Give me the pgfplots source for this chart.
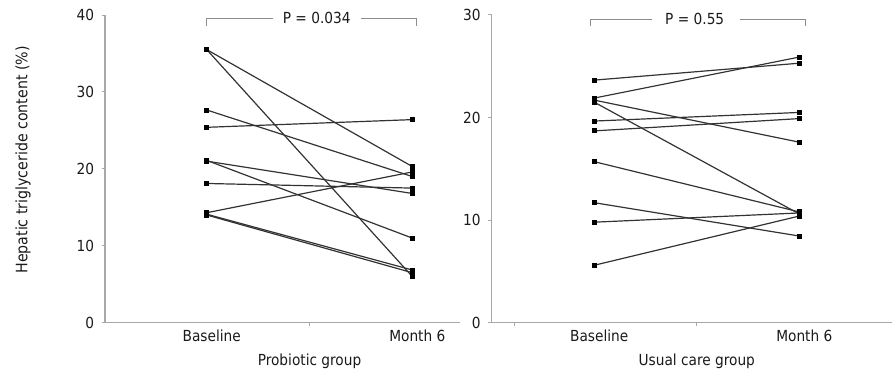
\documentclass[border=0pt]{standalone}
\usepackage{fontspec}
\setmainfont{DejaVu Sans Condensed}
\usepackage{pgfplots}
\pgfplotsset{compat=1.18}
\definecolor{axgray}{HTML}{A8A8A8}
\definecolor{lngray}{HTML}{333333}
\definecolor{txt}{HTML}{1A1A1A}
\definecolor{brk}{HTML}{8C8C8C}
\pgfplotsset{
  pair/.style={lngray, line width=1.2bp, mark=square*, mark size=1.9bp, mark options={black, solid}},
  panel/.style={
    scale only axis, height=307.7bp, ymin=0, clip=false,
    axis x line*=bottom, axis y line*=left,
    axis line style={axgray, line width=1.2bp},
    tick style={axgray, line width=1bp},
    tick align=outside, major tick length=3.5bp,
    xticklabels={},
    extra x ticks={0,1}, extra x tick labels={Baseline, Month 6},
    extra x tick style={major tick length=0pt, xticklabel style={xshift=5bp}},
    /pgf/number format/assume math mode=true,
    ticklabel style={font=\fontsize{15.3}{18}\selectfont, text=txt},
    yticklabel style={xshift=-4bp},
    xticklabel style={yshift=-4bp},
    xlabel style={font=\fontsize{15.3}{18}\selectfont, text=txt, at={(axis cs:0.5,0)}, anchor=center, yshift=-39bp},
  }
}
\begin{document}
\begin{tikzpicture}[x=1bp,y=1bp]
\useasboundingbox (0,-48.3) rectangle (892,322.7);
\node[rotate=90, font=\fontsize{15.8}{18}\selectfont, text=txt] at (23,162.7) {Hepatic triglyceride content (\%)};
\begin{axis}[panel, at={(105bp,0bp)}, anchor=south west, width=355bp,
  xmin=-0.495, xmax=1.232, ymax=40, ytick={0,10,20,30,40},
  xtick={0.5}, xlabel={Probiotic group}]
\addplot[pair] coordinates {(0,35.5)(1,20.3)};
\addplot[pair] coordinates {(0,35.5)(1,6.0)};
\addplot[pair] coordinates {(0,27.65)(1,19.0)};
\addplot[pair] coordinates {(0,25.4)(1,26.4)};
\addplot[pair] coordinates {(0,21.0)(1,16.8)};
\addplot[pair] coordinates {(0,21.1)(1,11.0)};
\addplot[pair] coordinates {(0,18.1)(1,17.5)};
\addplot[pair] coordinates {(0,14.3)(1,19.6)};
\addplot[pair] coordinates {(0,14.1)(1,6.85)};
\addplot[pair] coordinates {(0,14.0)(1,6.5)};
\draw[brk, line width=0.9bp] (axis cs:0,38.6) -- (axis cs:0,39.6) -- (axis cs:0.32,39.6);
\draw[brk, line width=0.9bp] (axis cs:0.75,39.6) -- (axis cs:1.02,39.6) -- (axis cs:1.02,38.6);
\node[font=\fontsize{15.3}{18}\selectfont, text=txt] at (axis cs:0.535,39.6) {P = 0.034};
\end{axis}
\begin{axis}[panel, at={(491.7bp,0bp)}, anchor=south west, width=400.3bp,
  xmin=-0.5, xmax=1.452, ymax=30, ytick={0,10,20,30},
  xtick={-0.39,0.5}, xlabel={Usual care group}]
\addplot[pair] coordinates {(0,23.65)(1,25.3)};
\addplot[pair] coordinates {(0,21.9)(1,25.9)};
\addplot[pair] coordinates {(0,21.7)(1,17.6)};
\addplot[pair] coordinates {(0,21.5)(1,10.6)};
\addplot[pair] coordinates {(0,19.66)(1,20.5)};
\addplot[pair] coordinates {(0,18.7)(1,19.9)};
\addplot[pair] coordinates {(0,15.7)(1,10.8)};
\addplot[pair] coordinates {(0,11.7)(1,8.45)};
\addplot[pair] coordinates {(0,9.8)(1,10.7)};
\addplot[pair] coordinates {(0,5.6)(1,10.4)};
\draw[brk, line width=0.9bp] (axis cs:-0.02,28.9) -- (axis cs:-0.02,29.6) -- (axis cs:0.28,29.6);
\draw[brk, line width=0.9bp] (axis cs:0.71,29.6) -- (axis cs:1.03,29.6) -- (axis cs:1.03,28.9);
\node[font=\fontsize{15.3}{18}\selectfont, text=txt] at (axis cs:0.49,29.6) {P = 0.55};
\end{axis}
\end{tikzpicture}
\end{document}
